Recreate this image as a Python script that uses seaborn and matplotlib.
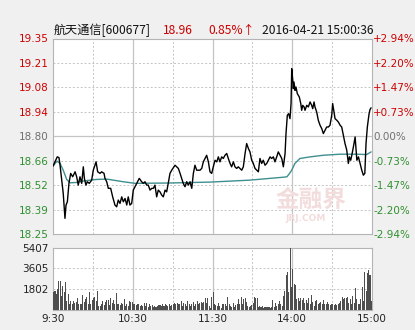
import matplotlib
matplotlib.use("Agg")
import matplotlib.pyplot as plt
import seaborn as sns
import numpy as np
import pandas as pd

# ---------------- data ----------------
price_minutes = [0, 3.2, 4.5, 5.3, 7.7, 9.0, 9.8, 10.8, 12.0, 13.3, 14.8, 16.6, 17.8, 19.0, 20.3, 21.6, 22.8, 23.6,
                 24.8, 25.8, 27.3, 29.1, 30.3, 32.4, 33.6, 35.4, 36.6, 38.4, 39.1, 40.4, 41.6, 43.4, 44.9, 46.6,
                 47.9, 49.1, 50.4, 51.7, 52.9, 54.2, 55.5, 56.6, 57.9, 59.2, 60.4, 61.7, 63.0, 64.9, 66.7, 68.0,
                 69.2, 70.5, 71.7, 73.0, 74.3, 75.5, 76.7, 78.0, 79.2, 80.5, 81.8, 83.0, 84.3, 85.5, 86.7, 88.0,
                 89.3, 91.8, 93.1, 94.3, 95.6, 96.8, 98.0, 99.3, 100.6, 101.8, 103.1, 104.4, 105.6, 106.8, 108.1,
                 110.6, 111.9, 113.1, 114.4, 115.6, 116.9, 118.1, 119.4, 120.6, 121.9, 123.2, 124.4, 125.6, 126.9,
                 128.1, 129.4, 130.7, 131.9, 133.2, 134.4, 135.7, 136.9, 138.2, 139.4, 142.0, 143.2, 144.5, 145.7,
                 147.0, 148.2, 149.5, 150.7, 152.0, 153.3, 154.5, 155.7, 157.0, 158.2, 159.5, 160.8, 162.0, 163.3,
                 164.5, 165.8, 167.0, 168.3, 169.5, 170.8, 172.1, 173.3, 174.6, 175.3, 176.3, 177.3, 178.3, 179.1,
                 179.6, 180.4, 180.8, 181.3, 182.1, 182.8, 183.8, 185.3, 186.4, 187.1, 187.9, 188.9, 189.6, 190.9,
                 192.1, 193.4, 194.6, 195.4, 196.4, 197.1, 198.4, 199.6, 200.9, 202.2, 203.4, 204.7, 205.9, 207.2,
                 208.4, 209.7, 210.4, 211.4, 212.2, 213.5, 214.7, 216.0, 217.2, 218.4, 219.7, 221.0, 222.2, 223.0,
                 224.0, 224.8, 226.0, 227.3, 228.6, 229.8, 231.0, 232.3, 233.5, 234.6, 235.5, 236.5, 237.8, 238.5,
                 239.3]
price_values = [18.632, 18.684, 18.680, 18.637, 18.478, 18.338, 18.413, 18.431, 18.535, 18.591, 18.572, 18.600,
                18.572, 18.525, 18.572, 18.535, 18.628, 18.563, 18.525, 18.544, 18.535, 18.553, 18.609, 18.656,
                18.600, 18.591, 18.600, 18.591, 18.563, 18.544, 18.507, 18.507, 18.459, 18.413, 18.403, 18.441,
                18.422, 18.459, 18.431, 18.450, 18.413, 18.459, 18.413, 18.422, 18.497, 18.516, 18.535, 18.563,
                18.544, 18.535, 18.544, 18.525, 18.525, 18.497, 18.507, 18.507, 18.525, 18.459, 18.497, 18.487,
                18.469, 18.459, 18.497, 18.487, 18.535, 18.591, 18.609, 18.637, 18.628, 18.619, 18.591, 18.563,
                18.535, 18.516, 18.544, 18.525, 18.544, 18.507, 18.591, 18.637, 18.609, 18.609, 18.619, 18.656,
                18.675, 18.693, 18.656, 18.600, 18.591, 18.628, 18.665, 18.656, 18.684, 18.656, 18.684, 18.675,
                18.693, 18.703, 18.675, 18.647, 18.628, 18.656, 18.628, 18.619, 18.628, 18.609, 18.628, 18.703,
                18.759, 18.731, 18.712, 18.665, 18.647, 18.619, 18.609, 18.600, 18.675, 18.647, 18.665, 18.637,
                18.647, 18.665, 18.684, 18.675, 18.684, 18.656, 18.684, 18.712, 18.693, 18.675, 18.628, 18.703,
                18.815, 18.918, 18.927, 18.899, 18.984, 19.180, 19.114, 19.068, 19.105, 19.058, 19.077, 19.040,
                19.021, 18.984, 18.946, 18.974, 18.965, 18.946, 18.974, 18.965, 18.993, 18.974, 18.955, 18.993,
                18.965, 18.936, 18.890, 18.862, 18.843, 18.815, 18.834, 18.852, 18.852, 18.862, 18.918, 18.984,
                18.936, 18.899, 18.890, 18.880, 18.862, 18.852, 18.806, 18.759, 18.722, 18.647, 18.684, 18.665,
                18.693, 18.740, 18.796, 18.665, 18.684, 18.647, 18.609, 18.581, 18.591, 18.759, 18.852, 18.927,
                18.950, 18.960]

avg_minutes = [0, 3, 5.3, 7.7, 10.3, 12.8, 17.8, 22.8, 27.8, 32.9, 40.4, 45.4, 52.9, 61.7, 88, 118, 148, 174,
               176, 177.6, 179.6, 182, 185.8, 193.4, 203.4, 216, 228.5, 236, 239.3]
avg_values = [18.632, 18.660, 18.647, 18.609, 18.557, 18.538, 18.540, 18.548, 18.553, 18.557, 18.559, 18.553,
              18.544, 18.535, 18.537, 18.542, 18.553, 18.570, 18.572, 18.587, 18.609, 18.647, 18.675, 18.684,
              18.693, 18.699, 18.699, 18.697, 18.712]

volume_morning = [1485, 1630, 1340, 1780, 2520, 2460, 1190, 2080, 1485, 2380,
                  740, 1340, 445, 740, 445, 740, 600, 680, 1040, 500,
                  500, 500, 1280, 680, 890, 1100, 445, 1485, 500, 800,
                  1040, 1100, 740, 1630, 300, 300, 500, 740, 356, 680,
                  800, 800, 386, 980, 600, 800, 500, 1400, 500, 445,
                  386, 560, 445, 890, 300, 445, 300, 740, 680, 680,
                  445, 500, 386, 445, 445, 300, 386, 300, 600, 300,
                  600, 208, 500, 300, 386, 208, 300, 208, 300, 356,
                  356, 300, 445, 300, 500, 386, 300, 445, 300, 386,
                  445, 600, 500, 600, 445, 445, 740, 300, 600, 445,
                  300, 740, 500, 300, 500, 680, 300, 445, 740, 445,
                  600, 680, 600, 680, 980, 600, 1040, 300, 150, 1100]
volume_afternoon = [1500, 500, 386, 300, 600, 300, 150, 500, 500, 500, 300,
                    1100, 500, 300, 208, 600, 208, 386, 445, 890, 500,
                    1100, 445, 890, 1040, 680, 300, 208, 300, 386, 600,
                    1100, 980, 1040, 208, 300, 208, 300, 150, 208, 208,
                    208, 208, 150, 208, 800, 208, 600, 300, 445, 740,
                    445, 300, 1190, 1630, 2970, 3270, 1485, 5407, 1930, 3560,
                    2230, 2170, 890, 980, 740, 1040, 800, 980, 600, 800,
                    600, 1040, 445, 1280, 680, 300, 740, 800, 500, 600,
                    680, 500, 800, 500, 445, 680, 500, 386, 500, 445,
                    386, 500, 386, 445, 600, 740, 1100, 890, 980, 1040,
                    1100, 600, 890, 500, 1190, 600, 1870, 890, 500, 500,
                    890, 1990, 740, 3270, 1630, 3180, 3415, 2970, 740]

price_ticks = [18.25, 18.39, 18.52, 18.66, 18.80, 18.94, 19.08, 19.21, 19.35]
pct_ticks = ["-2.94%", "-2.20%", "-1.47%", "-0.73%", "0.00%", "+0.73%", "+1.47%", "+2.20%", "+2.94%"]
vol_ticks = [1802, 3605, 5407]
time_ticks = [0, 60, 120, 180, 240]
time_labels = ["9:30", "10:30", "11:30", "14:00", "15:00"]
prev_close = 18.80

# ---------------- style ----------------
sns.set_theme(style="white")
plt.rcParams['font.family'] = ['DejaVu Sans', 'Noto Sans CJK SC']

RED = "#cc0000"
GREEN = "#2f8f2f"
GRAY = "#707070"
GRID = "#c4c4c4"
BG = "#f0f0f0"

fig = plt.figure(figsize=(4.15, 3.30), dpi=100, facecolor=BG)
ax = fig.add_axes([53/415, 1-234/330, (372-53)/415, (234-38.5)/330])
axv = fig.add_axes([53/415, 1-309.5/330, (372-53)/415, (309.5-247.5)/330])

for a in (ax, axv):
    a.set_facecolor("white")
    for s in a.spines.values():
        s.set_color("#b4b4b4")
        s.set_linewidth(0.8)
    a.set_xlim(0, 240)
    for m in [30, 90, 150, 210]:
        a.axvline(m, color=GRID, lw=0.7, ls=(0, (2, 2)), zorder=0)
    for m in [60, 120, 180]:
        a.axvline(m, color=GRID, lw=0.9, zorder=0)

# main price chart
lo, hi = 18.25, 19.35
ax.set_ylim(lo, hi)
ypos = np.linspace(lo, hi, 9)
for yv in ypos[1:-1]:
    if abs(yv - prev_close) < 1e-6:
        ax.axhline(yv, color=GRID, lw=0.9, zorder=0)
    else:
        ax.axhline(yv, color=GRID, lw=0.7, ls=(0, (2, 2)), zorder=0)

# watermark
ax.text(194, 18.44, "金融界", fontsize=17, fontweight="bold", color="#f2dcdc",
        family=['Noto Sans CJK SC'], ha="center", va="center", zorder=1)
ax.text(190, 18.335, "JRJ.COM", fontsize=6.5, fontweight="bold", color="#f2dcdc",
        ha="center", va="center", zorder=1)

price_df = pd.DataFrame({"minute": price_minutes, "price": price_values})
avg_df = pd.DataFrame({"minute": avg_minutes, "avg": avg_values})
sns.lineplot(data=avg_df, x="minute", y="avg", ax=ax, color="#3f8f8f", lw=1.0, estimator=None, zorder=3)
sns.lineplot(data=price_df, x="minute", y="price", ax=ax, color="black", lw=1.0, estimator=None, zorder=4)

ax.set_xlabel("")
ax.set_ylabel("")
ax.set_xticks([])
ax.set_yticks(ypos)
ax.set_yticklabels([f"{v:.2f}" for v in price_ticks], fontsize=7.5)
ax.tick_params(axis="y", length=0, pad=3)
for lab, v in zip(ax.get_yticklabels(), price_ticks):
    lab.set_color(RED if v > prev_close + 1e-6 else (GREEN if v < prev_close - 1e-6 else GRAY))

ax2 = ax.twinx()
ax2.set_ylim(lo, hi)
ax2.set_yticks(ypos)
ax2.set_yticklabels(pct_ticks, fontsize=7.5)
ax2.tick_params(axis="y", length=0, pad=1)
for s in ax2.spines.values():
    s.set_visible(False)
for lab, t in zip(ax2.get_yticklabels(), pct_ticks):
    lab.set_color(RED if t.startswith("+") else (GREEN if t.startswith("-") else GRAY))
ax2.grid(False)

# volume chart
vol = volume_morning + volume_afternoon
vol_df = pd.DataFrame({"minute": np.arange(len(vol)) + 0.5, "volume": vol})
sns.barplot(data=vol_df, x="minute", y="volume", ax=axv, native_scale=True, color="#4e4e4e",
            width=0.78, errorbar=None, saturation=1, zorder=3, linewidth=0)
axv.set_xlim(0, 240)
axv.set_ylim(0, 5407)
for yv in vol_ticks[:2]:
    axv.axhline(yv, color=GRID, lw=0.7, ls=(0, (2, 2)), zorder=0)
axv.set_yticks(vol_ticks)
axv.set_yticklabels([str(v) for v in vol_ticks], fontsize=7.5, color="#222222")
axv.set_xticks(time_ticks)
axv.set_xticklabels(time_labels, fontsize=7.5, color="#222222")
axv.tick_params(length=0, pad=3)
axv.set_xlabel("")
axv.set_ylabel("")

# title line
ty = 1 - 30.5/330
fam = ['Noto Sans CJK SC', 'DejaVu Sans']
fig.text(54/415, ty, "航天通信[600677]", fontsize=8.7, color="#111111", family=fam, va="center")
fig.text(163/415, ty, "18.96", fontsize=8.7, color=RED, family=fam, va="center")
fig.text(208/415, ty, "0.85%↑", fontsize=8.7, color=RED, family=fam, va="center")
fig.text(262/415, ty, "2016-04-21 15:00:36", fontsize=8.7, color="#111111", family=fam, va="center")

fig.savefig("out.png", dpi=100, facecolor=BG)
